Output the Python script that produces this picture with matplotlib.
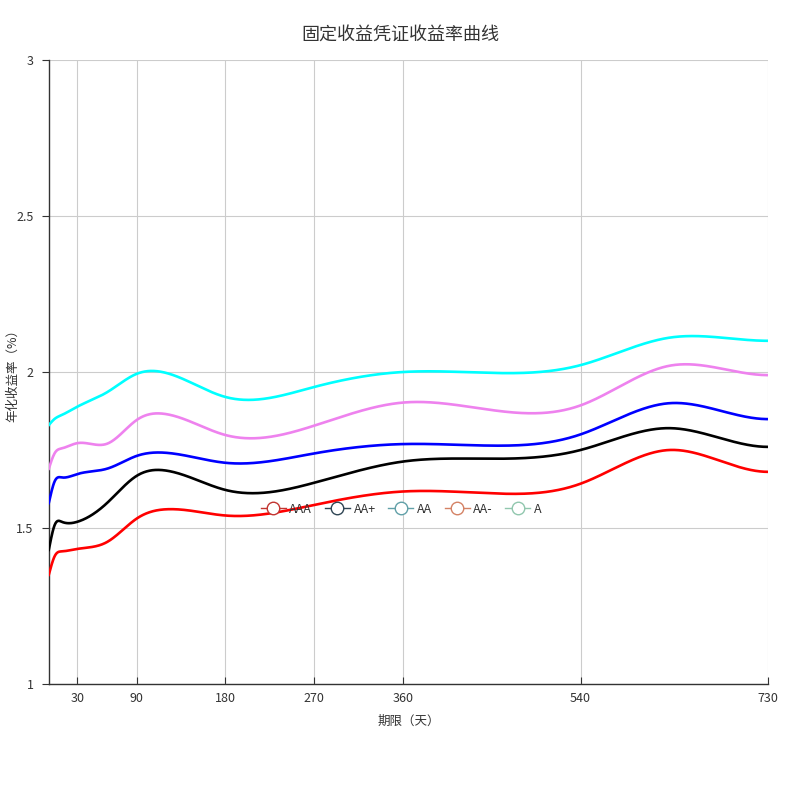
import numpy as np
import matplotlib
matplotlib.use("Agg")
import matplotlib.pyplot as plt
from matplotlib.lines import Line2D

plt.rcParams['font.family'] = ['Noto Sans CJK SC', 'DejaVu Sans']

title = "固定收益凭证收益率曲线"
x_label = "期限（天）"
y_label = "年化收益率（%）"

terms = [1, 7, 14, 30, 60, 90, 120, 180, 270, 360, 450, 540, 630, 730]
x_ticks = [30, 90, 180, 270, 360, 540, 730]
y_ticks = [1, 1.5, 2, 2.5, 3]

series_names = ["AAA", "AA+", "AA", "AA-", "A"]
aaa = [1.35, 1.41, 1.425, 1.433, 1.455, 1.53, 1.56, 1.54, 1.574, 1.617, 1.611, 1.642, 1.75, 1.68]
aa_plus = [1.43, 1.51, 1.52, 1.52, 1.58, 1.667, 1.684, 1.622, 1.645, 1.713, 1.722, 1.75, 1.82, 1.76]
aa = [1.58, 1.65, 1.662, 1.673, 1.69, 1.731, 1.741, 1.709, 1.739, 1.769, 1.764, 1.80, 1.90, 1.849]
aa_minus = [1.69, 1.74, 1.755, 1.772, 1.77, 1.846, 1.865, 1.798, 1.828, 1.902, 1.878, 1.893, 2.02, 1.99]
a = [1.83, 1.85, 1.862, 1.889, 1.935, 1.994, 1.997, 1.92, 1.952, 2.0, 1.997, 2.022, 2.11, 2.10]

line_colors = ["#ff0000", "#000000", "#0000ff", "#ee82ee", "#00ffff"]
legend_colors = ["#c23531", "#2f4554", "#61a0a8", "#d48265", "#91c7ae"]


def spline(x, y, xs, end_slope=0.0):
    # cubic spline: natural at the start, fixed slope at the end
    x = np.asarray(x, float)
    y = np.asarray(y, float)
    n = len(x)
    h = np.diff(x)
    A = np.zeros((n, n))
    r = np.zeros(n)
    A[0, 0] = 1
    for i in range(1, n - 1):
        A[i, i - 1] = h[i - 1]
        A[i, i] = 2 * (h[i - 1] + h[i])
        A[i, i + 1] = h[i]
        r[i] = 3 * ((y[i + 1] - y[i]) / h[i] - (y[i] - y[i - 1]) / h[i - 1])
    A[-1, -2] = h[-1]
    A[-1, -1] = 2 * h[-1]
    r[-1] = 3 * (end_slope - (y[-1] - y[-2]) / h[-1])
    c = np.linalg.solve(A, r)
    b = np.zeros(n - 1)
    d = np.zeros(n - 1)
    for i in range(n - 1):
        b[i] = (y[i + 1] - y[i]) / h[i] - h[i] * (2 * c[i] + c[i + 1]) / 3
        d[i] = (c[i + 1] - c[i]) / (3 * h[i])
    idx = np.clip(np.searchsorted(x, xs) - 1, 0, n - 2)
    dx = xs - x[idx]
    return y[idx] + b[idx] * dx + c[idx] * dx ** 2 + d[idx] * dx ** 3


fig = plt.figure(figsize=(8, 8), dpi=100)
ax = fig.add_axes([0.061, 0.145, 0.899, 0.78])

xs = np.linspace(terms[0], terms[-1], 1500)
for vals, col in zip([aaa, aa_plus, aa, aa_minus, a], line_colors):
    ax.plot(xs, spline(terms, vals, xs), color=col, lw=1.9, zorder=3)

ax.set_xlim(1, 730)
ax.set_ylim(1, 3)
ax.set_xticks(x_ticks)
ax.set_xticklabels([str(t) for t in x_ticks])
ax.set_yticks(y_ticks)
ax.set_yticklabels(["1", "1.5", "2", "2.5", "3"])
ax.grid(True, color="#cccccc", lw=0.8, zorder=0)
for s in ["top", "right"]:
    ax.spines[s].set_visible(False)
for s in ["left", "bottom"]:
    ax.spines[s].set_color("#333333")
    ax.spines[s].set_linewidth(1)
ax.tick_params(axis="x", direction="in", length=5, colors="#333333", labelsize=9, pad=6)
ax.tick_params(axis="y", direction="out", length=5, colors="#333333", labelsize=9, pad=6)

ax.set_xlabel(x_label, fontsize=9, color="#333333", labelpad=7)
fig.text(0.016, 0.535, y_label, rotation=90, ha="center", va="center",
         fontsize=9, color="#333333")
fig.text(0.5, 0.957, title, ha="center", va="center", fontsize=13, color="#333333")

handles = [Line2D([0], [0], color=c, lw=1, marker="o", markersize=9,
                  markerfacecolor="white", markeredgecolor=c, markeredgewidth=1)
           for c in legend_colors]
leg = ax.legend(handles, series_names, loc="center", bbox_to_anchor=(0.49, 0.28),
                ncol=5, frameon=False, fontsize=9, handlelength=2.0,
                handletextpad=0.3, columnspacing=1.0, labelcolor="#333333")
leg.set_zorder(5)

fig.savefig("out.png", dpi=100)
